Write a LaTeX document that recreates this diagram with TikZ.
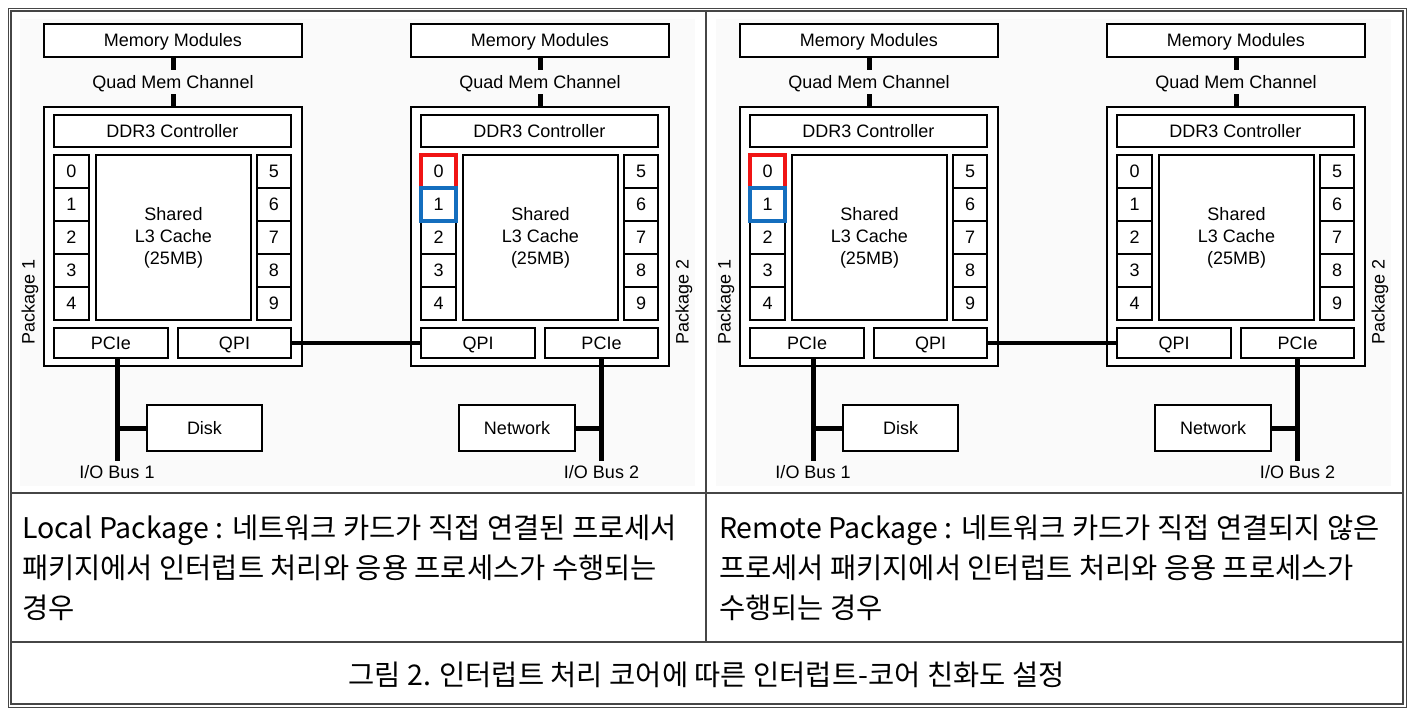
\documentclass[tikz,border=0pt]{standalone}
\usepackage{fontspec}
\setmainfont{Liberation Sans}
\newfontfamily\krfont{Noto Sans CJK KR}
\usetikzlibrary{calc}
\definecolor{hlred}{RGB}{240,20,20}
\definecolor{hlblue}{RGB}{20,110,190}
\definecolor{tbl}{RGB}{70,70,70}
\definecolor{bgpanel}{RGB}{250,250,250}
\newcommand\dfont{\fontsize{18}{22}\selectfont}
\newcommand\kfont{\krfont\fontsize{28.5}{34}\selectfont}
\tikzset{
  bx/.style={draw=black, line width=2pt, fill=white, inner sep=0pt, outer sep=0pt, font=\dfont, align=center},
  capc/.style={text height=12.9pt, text depth=0pt},
  lbl/.style={inner sep=0pt, outer sep=0pt, font=\dfont},
  bus/.style={draw=black, line width=5pt},
  hlr/.style={draw=hlred, line width=3.5pt},
  hlb/.style={draw=hlblue, line width=3.5pt},
  tline/.style={draw=tbl, line width=1.5pt},
  ktext/.style={inner sep=0pt, outer sep=0pt, font=\kfont},
}
\newcommand\pkgdraw[4]{%
  \node[bx, capc, minimum width=258, minimum height=33] (#2mem) at ({#1+129},40.5) {Memory Modules};
  \node[lbl, capc, minimum height=23] (#2quad) at ({#1+129},82) {Quad Mem Channel};
  \node[bx, minimum width=258, minimum height=259] (#2pk) at ({#1+129},236.5) {};
  \draw[bus] (#2mem.south) -- ($(#2quad.north)+(0,-0.5)$);
  \draw[bus] ($(#2quad.south)+(0,0.5)$) -- (#2pk.north);
  \node[bx, capc, minimum width=237, minimum height=32] (#2ddr) at ({#1+128.5},131) {DDR3 Controller};
  \foreach \i/\j in {0/5,1/6,2/7,3/8,4/9} {
    \node[bx, capc, minimum width=35, minimum height=33] (#2c\i) at ({#1+27.5},{171.5+33*\i}) {\i};
    \node[bx, capc, minimum width=34, minimum height=33] (#2c\j) at ({#1+230},{171.5+33*\i}) {\j};
  }
  \node[bx, minimum width=155, minimum height=165] (#2l3) at ({#1+129.5},237.5) {Shared\\L3 Cache\\(25MB)};
  \node[bx, capc, minimum width=114, minimum height=30] (#2b1) at ({#1+67},343) {#3};
  \node[bx, capc, minimum width=113, minimum height=30] (#2b2) at ({#1+190.5},343) {#4};
}
\newcommand\panel[3]{%
  \fill[bgpanel] ({20+#1},19) rectangle ({695+#1},486);
  \pkgdraw{44+#1}{#2A}{PCIe}{QPI}
  \pkgdraw{411+#1}{#2B}{QPI}{PCIe}
  \node[lbl, rotate=90] (#2Alab) at ({30+#1},302) {Package 1};
  \node[lbl, rotate=90] (#2Blab) at ({684+#1},302) {Package 2};
  \draw[bus, line width=4.5pt] (#2Ab2.east) -- (#2Bb1.west);
  % I/O bus 1
  \coordinate (#2Aend) at ({117+#1},461);
  \draw[bus] (#2Ab1.south -| #2Aend) -- (#2Aend);
  \node[bx, capc, minimum width=115, minimum height=46] (#2Adisk) at ({204.5+#1},428) {Disk};
  \draw[bus] (#2Adisk.west) -- (#2Adisk.west -| #2Aend);
  \node[lbl, anchor=north] (#2Aio) at ($(#2Aend)+(0,4)$) {I/O Bus 1};
  % I/O bus 2
  \coordinate (#2Bend) at ({601.5+#1},461);
  \draw[bus] (#2Bb2.south -| #2Bend) -- (#2Bend);
  \node[bx, capc, minimum width=116, minimum height=46] (#2Bnet) at ({517+#1},428) {Network};
  \draw[bus] (#2Bnet.east) -- (#2Bnet.east -| #2Bend);
  \node[lbl, anchor=north] (#2Bio) at ($(#2Bend)+(0,4)$) {I/O Bus 2};
  % highlighted cores
  \draw[hlr] (#2#3c0.north west) rectangle (#2#3c0.south east);
  \draw[hlb] (#2#3c1.north west) rectangle (#2#3c1.south east);
}
\begin{document}
\begin{tikzpicture}[x=1pt,y=-1pt]
\useasboundingbox (0,0) rectangle (1411,712);
\fill[white] (0,0) rectangle (1411,712);
\panel{0}{L}{B}
\panel{696}{R}{A}
% table
\draw[tbl, line width=1pt] (8,8) rectangle (1406,707);
\draw[tline] (11,11) rectangle (1403,704);
\draw[tline] (706,11) -- (706,642);
\draw[tline] (11,493) -- (1403,493);
\draw[tline] (11,642) -- (1403,642);
% texts
\node[ktext, anchor=base west] (lt1) at (22,538) {Local Package : 네트워크 카드가 직접 연결된 프로세서};
\node[ktext, anchor=base west] (lt2) at (22,578) {패키지에서 인터럽트 처리와 응용 프로세스가 수행되는};
\node[ktext, anchor=base west] (lt3) at (22,618) {경우};
\node[ktext, anchor=base west] (rt1) at (719,538) {Remote Package : 네트워크 카드가 직접 연결되지 않은};
\node[ktext, anchor=base west] (rt2) at (719,578) {프로세서 패키지에서 인터럽트 처리와 응용 프로세스가};
\node[ktext, anchor=base west] (rt3) at (719,618) {수행되는 경우};
\node[ktext, anchor=base] (cap) at (706.5,685) {그림 2. 인터럽트 처리 코어에 따른 인터럽트-코어 친화도 설정};
\end{tikzpicture}
\end{document}
